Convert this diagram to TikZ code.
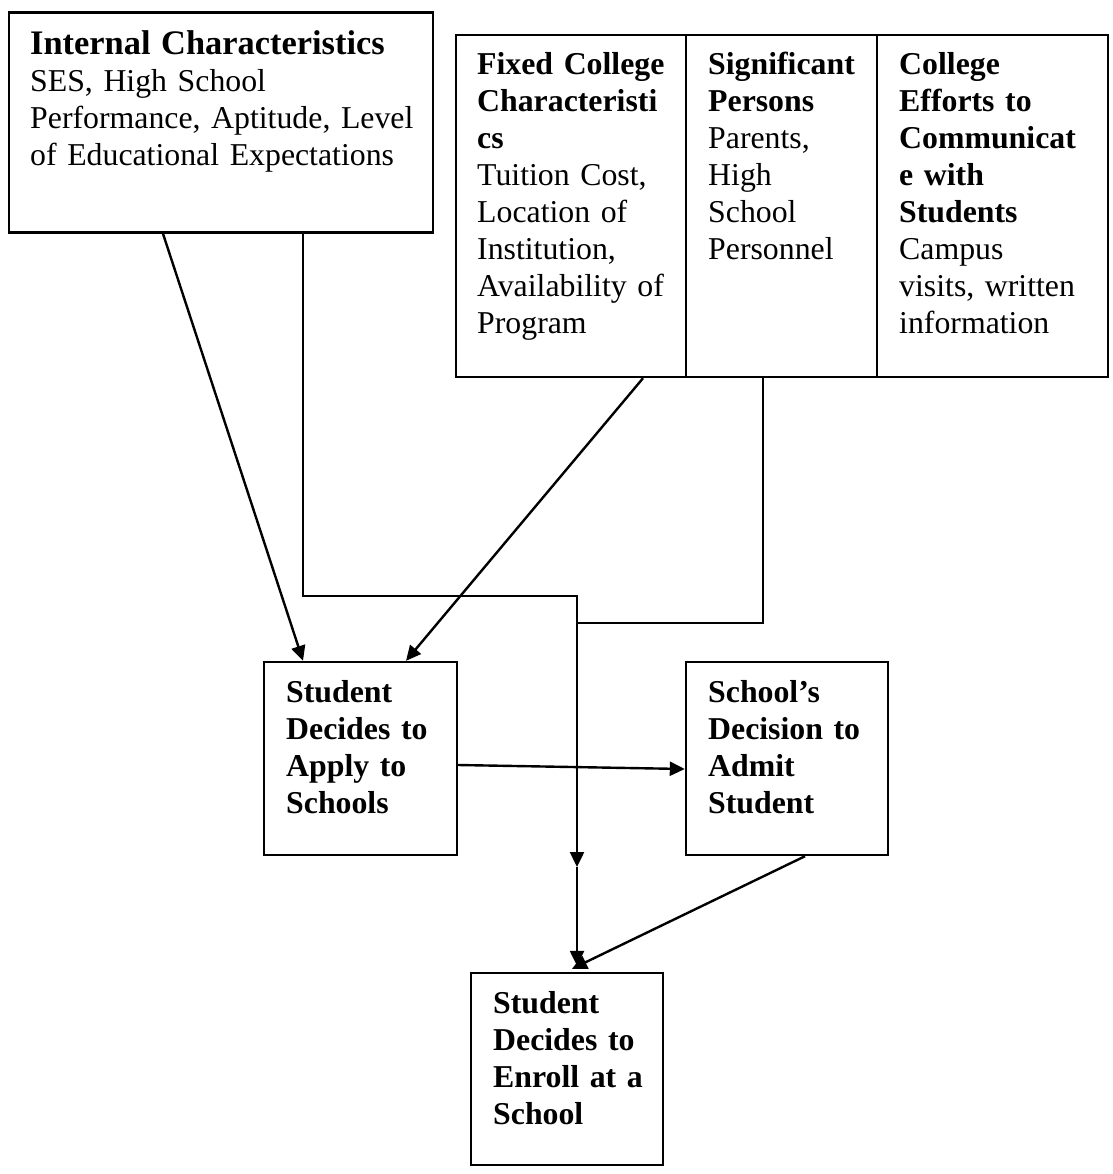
\documentclass[tikz,border=0pt]{standalone}
\usepackage{fontspec}
\setmainfont{Liberation Serif}
\usetikzlibrary{arrows.meta}
\begin{document}
\begin{tikzpicture}[x=1pt,y=-1pt,
  box/.style={draw, line width=2.4pt, inner sep=0pt},
  txt/.style={anchor=base west, inner sep=0pt, text width=430pt, align=left,
    font=\fontsize{31.8}{37}\selectfont},
  conn/.style={line width=2.4pt},
  arr/.style={line width=2.4pt, -{Triangle[length=15pt,width=14pt]}}]
\useasboundingbox (0,0) rectangle (1112,1174);
% boxes
\node[box, minimum width=424pt, minimum height=220pt] (internal) at (221,122.5) {};
\node[box, minimum width=230pt, minimum height=342pt] (fixed) at (571,206) {};
\node[box, minimum width=191pt, minimum height=342pt] (sig) at (781.5,206) {};
\node[box, minimum width=231pt, minimum height=342pt] (eff) at (992.5,206) {};
\node[box, minimum width=193pt, minimum height=193pt] (apply) at (360.5,758.5) {};
\node[box, minimum width=202pt, minimum height=193pt] (school) at (787,758.5) {};
\node[box, minimum width=192pt, minimum height=192pt] (enroll) at (567,1069) {};
% texts
\node[txt] (internalT) at (30,55) {{\fontsize{34.4}{37}\selectfont\bfseries Internal Characteristics}\\SES, High School\\Performance, Aptitude, Level\\of Educational Expectations};
\node[txt] (fixedT) at (477,75) {\textbf{Fixed College}\\\textbf{Characteristi}\\\textbf{cs}\\Tuition Cost,\\Location of\\Institution,\\Availability of\\Program};
\node[txt] (sigT) at (708,75) {\textbf{Significant}\\\textbf{Persons}\\Parents,\\High\\School\\Personnel};
\node[txt] (effT) at (899,75) {\textbf{College}\\\textbf{Efforts to}\\\textbf{Communicat}\\\textbf{e with}\\\textbf{Students}\\Campus\\visits, written\\information};
\node[txt] (applyT) at (286,702) {\textbf{Student}\\\textbf{Decides to}\\\textbf{Apply to}\\\textbf{Schools}};
\node[txt] (schoolT) at (708,702) {\textbf{School’s}\\\textbf{Decision to}\\\textbf{Admit}\\\textbf{Student}};
\node[txt] (enrollT) at (493,1013) {\textbf{Student}\\\textbf{Decides to}\\\textbf{Enroll at a}\\\textbf{School}};
% junctions
\coordinate (j1) at (577,596);
\coordinate (j2) at (577,623);
\coordinate (mid) at (577,867);
% connectors
\draw[arr] ([xshift=-58pt]internal.south) -- ([xshift=-57.5pt]apply.north);
\draw[arr] ([xshift=72pt]fixed.south) -- ([xshift=45.5pt]apply.north);
\draw[arr] ([xshift=82pt]internal.south) |- (j1) -- (mid);
\draw[arr] (mid) -- ([xshift=10pt,yshift=6pt]enroll.north);
\draw[conn] ([xshift=-18.5pt]sig.south) |- (j2);
\draw[arr] ([yshift=-6.5pt]apply.east) -- ([yshift=-10.5pt]school.west);
\draw[arr] ([xshift=18pt]school.south) -- ([xshift=5pt,yshift=3pt]enroll.north);
\end{tikzpicture}
\end{document}
